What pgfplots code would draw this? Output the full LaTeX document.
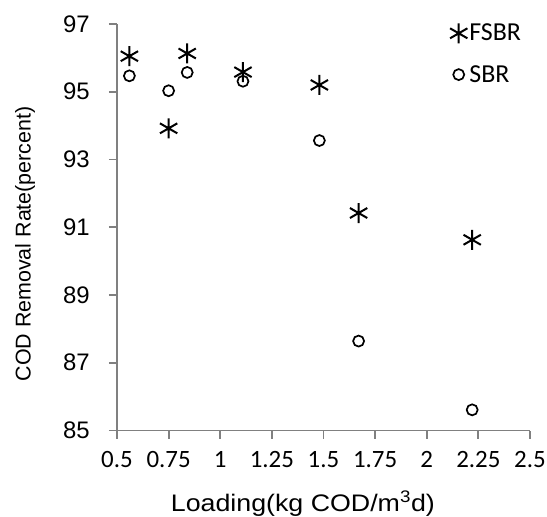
\documentclass[border=0pt]{standalone}
\usepackage{fontspec}
\setmainfont{Liberation Sans}
\newfontfamily\calfont{Carlito}
\newfontfamily\widefont[FakeStretch=1.12]{Liberation Sans}
\usepackage{pgfplots}
\pgfplotsset{compat=1.18}
\definecolor{axgray}{RGB}{128,128,128}

\begin{document}
\begin{tikzpicture}
\begin{axis}[
    name=ax,
    scale only axis,
    width=413bp, height=406.5bp,
    xmin=0.5, xmax=2.5,
    ymin=85, ymax=97,
    axis x line*=bottom,
    axis y line*=left,
    axis line style={axgray, line width=1.8bp},
    every tick/.append style={draw=axgray, line width=1.8bp},
    xtick align=outside,
    ytick align=outside,
    major tick length=8bp,
    xtick={0.5,0.75,1,1.25,1.5,1.75,2,2.25,2.5},
    xticklabels={0.5,0.75,1,1.25,1.5,1.75,2,2.25,2.5},
    ytick={85,87,89,91,93,95,97},
    /pgf/number format/assume math mode=true,
    xticklabel style={font=\calfont\fontsize{25}{29}\selectfont},
    yticklabel style={font=\fontsize{24}{28}\selectfont, inner xsep=19bp},
    xticklabel shift=9bp,
    xlabel={Loading(kg COD/m\textsuperscript{3}d)},
    ylabel={COD Removal Rate(percent)},
    xlabel style={font=\widefont\fontsize{24}{28}\selectfont,
        at={(rel axis cs:0.45,-0.2)}, anchor=base},
    ylabel style={font=\fontsize{21.5}{25}\selectfont,
        at={(rel axis cs:-0.2228,0.459)}, anchor=center},
    legend style={draw=none, fill=none, inner sep=0pt,
        at={(rel axis cs:0.806,1.005)}, anchor=north west,
        font=\calfont\fontsize{26}{30}\selectfont,
        row sep=19bp,
        /tikz/every even column/.append style={column sep=10bp}},
    legend cell align=left,
    clip=false,
]
\addplot[only marks, mark=asterisk, mark size=10bp,
    mark options={black, line width=2bp}] coordinates {
    (0.56,96.05) (0.75,93.92) (0.84,96.13) (1.11,95.58)
    (1.48,95.20) (1.67,91.42) (2.22,90.63)
};
\addlegendentry{FSBR}
\addplot[only marks, mark=o, mark size=5.5bp,
    mark options={black, line width=1.7bp}] coordinates {
    (0.56,95.47) (0.75,95.03) (0.84,95.57) (1.11,95.31)
    (1.48,93.56) (1.67,87.64) (2.22,85.61)
};
\addlegendentry{SBR}
\end{axis}
\pgfresetboundingbox
\path ([shift={(-117bp,-86.5bp)}]ax.south west) rectangle ([shift={(17bp,24bp)}]ax.north east);
\end{tikzpicture}
\end{document}
